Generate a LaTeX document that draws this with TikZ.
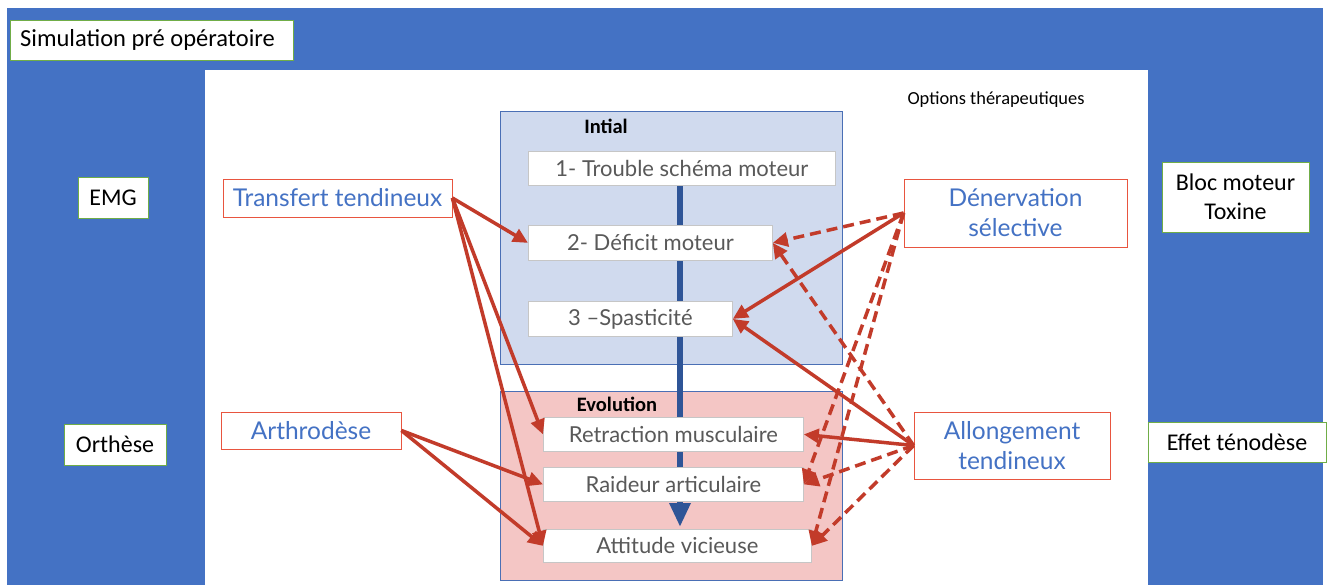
\documentclass[tikz,border=0pt]{standalone}
\usepackage{fontspec}
\setmainfont{Lato}
\newfontfamily\calibri{Carlito}
\usetikzlibrary{positioning}
\usetikzlibrary{arrows.meta}
\definecolor{bgblue}{HTML}{4472C4}
\definecolor{txtblue}{HTML}{4472C4}
\definecolor{framegreen}{HTML}{70AD47}
\definecolor{arrowred}{HTML}{C23B2A}
\definecolor{boxred}{HTML}{E8553F}
\definecolor{initfill}{HTML}{D0DAEE}
\definecolor{evofill}{HTML}{F4C6C5}
\definecolor{panelline}{HTML}{4A6FB5}
\definecolor{flowblue}{HTML}{2F5597}
\definecolor{stagegray}{HTML}{595959}
\tikzset{x=1pt, y=-1pt,
    every node/.style={inner sep=0pt},
    sidebox/.style={
        draw=framegreen,
        fill=white,
        line width=0.8pt,
        align=center,
        font=\calibri\fontsize{24}{29}\selectfont},
    optbox/.style={
        draw=boxred,
        fill=white,
        line width=0.8pt,
        align=center,
        text=txtblue,
        font=\fontsize{24.5}{30}\selectfont},
    stagebox/.style={
        draw=gray!45,
        fill=white,
        line width=0.8pt,
        anchor=north west,
        text=stagegray,
        font=\fontsize{22}{24}\selectfont},
    dashedge/.style={dash pattern=on 11pt off 6pt},
    every edge/.style={
        draw=arrowred,
        -{Triangle[length=15pt,width=14pt]},
        line width=3.5pt}}

\begin{document}
\begin{tikzpicture}
        \useasboundingbox (0,0) rectangle (1330,585);
        % panels
        \fill[bgblue] (7,8) rectangle (1323,585);
        \fill[white] (205,70) rectangle (1148,585);
        \filldraw[fill=initfill,draw=panelline,line width=0.8pt] (500,111) rectangle (842,364);
        \filldraw[fill=evofill,draw=panelline,line width=0.8pt] (500,391) rectangle (842,580);

        \node[font=\calibri\bfseries\fontsize{20.5}{24}\selectfont] (initial) at (606,126) {Intial};
        \node[font=\calibri\bfseries\fontsize{20.5}{24}\selectfont] (evolution) at (617,404) {Evolution};
        \node[font=\calibri\fontsize{18.4}{22}\selectfont] (options) at (996,100) {Options thérapeutiques};

        % flow line
        \coordinate (flowtop) at (680,186);
        \coordinate (flowend) at (680,527);
        \draw[flowblue,line width=6pt,-{Triangle[length=24pt,width=20pt]}] (flowtop) -- (flowend);

        % stages
        \node[stagebox,minimum width=307pt,minimum height=34pt] (trouble) at (528,151) {1- Trouble schéma moteur};
        \node[stagebox,minimum width=244pt,minimum height=35pt] (deficit) at (528,225) {2- Déficit moteur};
        \node[stagebox,minimum width=204pt,minimum height=35pt] (spast) at (528,301) {3 –Spasticité};
        \node[stagebox,minimum width=260pt,minimum height=34pt] (retract) at (543,417) {Retraction musculaire};
        \node[stagebox,minimum width=260pt,minimum height=34pt] (raideur) at (543,467) {Raideur articulaire};
        \node[stagebox,minimum width=268pt,minimum height=33pt] (attitude) at (543,529) {Attitude vicieuse};

        % options
        \node[optbox,minimum width=229pt,minimum height=38pt] (transfert) at (337.5,198) {Transfert tendineux};
        \node[optbox,minimum width=180pt,minimum height=37pt] (arthro) at (311,430.5) {Arthrodèse};
        \node[optbox,minimum width=223pt,minimum height=68pt] (denerv) at (1015.5,213) {Dénervation\\sélective};
        \node[optbox,minimum width=196pt,minimum height=67pt] (allong) at (1012,445.5) {Allongement\\tendineux};

        % outer boxes
        \node[sidebox,minimum width=283pt,minimum height=40pt] (simul) at (151.5,40) {};
        \node[anchor=west,font=\calibri\fontsize{24.5}{29}\selectfont] (simultext) at (20,40) {Simulation pré opératoire};
        \node[sidebox,minimum width=70pt,minimum height=41pt] (emg) at (113,197.5) {EMG};
        \node[sidebox,minimum width=102pt,minimum height=41pt] (orthese) at (115,444.5) {Orthèse};
        \node[sidebox,minimum width=147pt,minimum height=70pt] (bloc) at (1235.5,197) {Bloc moteur\\Toxine};
        \node[sidebox,minimum width=178pt,minimum height=40pt] (tenodese) at (1237,442) {Effet ténodèse};

        % arrows
        \draw (transfert.east) edge (deficit.west);
        \draw (transfert.east) edge (retract.west);
        \draw (transfert.east) edge (attitude.west);
        \draw (arthro.east) edge (raideur.west);
        \draw (arthro.east) edge (attitude.west);

        \draw (denerv.west) edge[dashedge] (deficit.east);
        \draw (denerv.west) edge (spast.east);
        \draw (denerv.west) edge[dashedge] (raideur.east);
        \draw (denerv.west) edge[dashedge] (attitude.east);

        \draw (allong.west) edge[dashedge] (deficit.east);
        \draw (allong.west) edge (spast.east);
        \draw (allong.west) edge (retract.east);
        \draw (allong.west) edge[dashedge] (raideur.east);
        \draw (allong.west) edge[dashedge] (attitude.east);
    \end{tikzpicture}
\end{document}
